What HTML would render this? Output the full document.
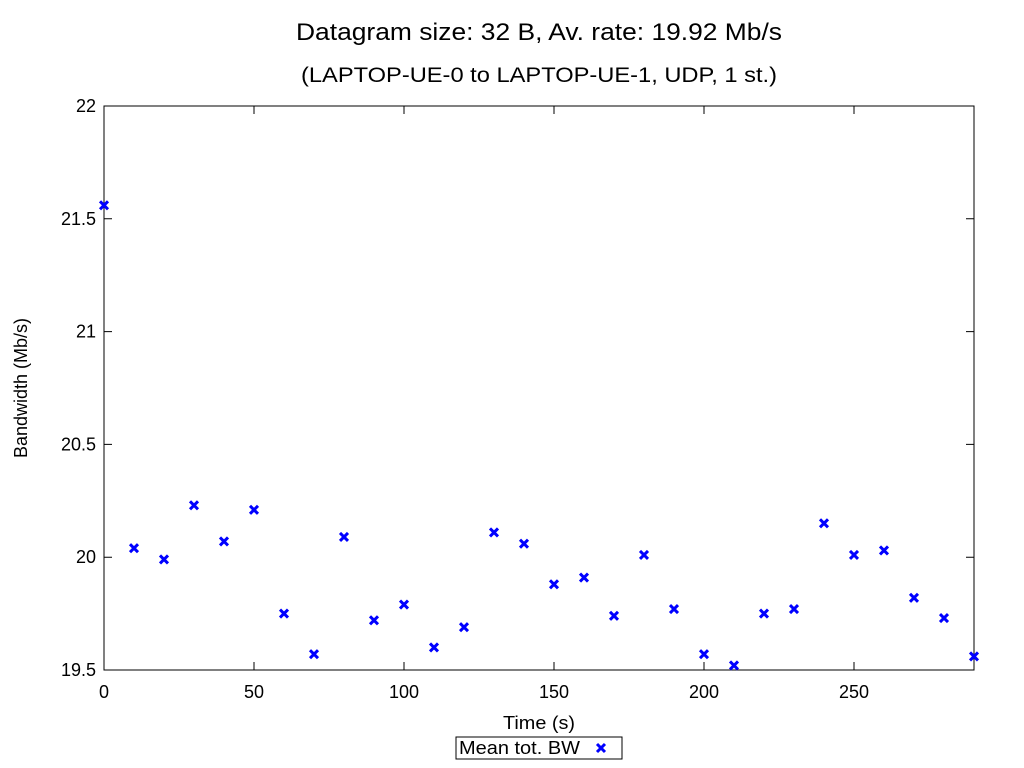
<!DOCTYPE html>
<html><head><meta charset="utf-8"><style>
body{margin:0;background:#fff}
svg{display:block;font-family:"Liberation Sans",sans-serif}
</style></head><body>
<svg id="c" width="1024" height="768">
<text x="296" y="40" font-size="24" textLength="486" lengthAdjust="spacingAndGlyphs">Datagram size: 32 B, Av. rate: 19.92 Mb/s</text>
<text x="301" y="82" font-size="21" textLength="476" lengthAdjust="spacingAndGlyphs">(LAPTOP-UE-0 to LAPTOP-UE-1, UDP, 1 st.)</text>
<rect x="104" y="106" width="870" height="564" fill="none" stroke="#000" stroke-width="1"/>
<g id="ticks"></g>
<g id="marks"></g>
<text x="503" y="729" font-size="18" textLength="72" lengthAdjust="spacingAndGlyphs">Time (s)</text>
<text transform="translate(27,388) rotate(-90)" font-size="18" text-anchor="middle">Bandwidth (Mb/s)</text>
<g>
<rect x="456" y="737" width="166" height="22" fill="none" stroke="#000"/>
<text x="459" y="754" font-size="18" textLength="121" lengthAdjust="spacingAndGlyphs">Mean tot. BW</text>
<path d="M597 744l8 8M605 744l-8 8" stroke="#0000ff" stroke-width="3"/>
</g>
</svg>
<script>
const times=[0,10,20,30,40,50,60,70,80,90,100,110,120,130,140,150,160,170,180,190,200,210,220,230,240,250,260,270,280,290];
const bandwidth=[21.56,20.04,19.99,20.23,20.07,20.21,19.75,19.57,20.09,19.72,19.79,19.60,19.69,20.11,20.06,19.88,19.91,19.74,20.01,19.77,19.57,19.52,19.75,19.77,20.15,20.01,20.03,19.82,19.73,19.56];
const xTicks=[0,50,100,150,200,250];
const yTicks=[19.5,20,20.5,21,21.5,22];
const yLabels=["19.5","20","20.5","21","21.5","22"];
const X=v=>104+(v-0)/290*870, Y=v=>670-(v-19.5)/2.5*564;
const NS="http://www.w3.org/2000/svg";
const tg=document.getElementById('ticks'), mg=document.getElementById('marks');
function mk(tag,attrs,parent){const e=document.createElementNS(NS,tag);for(const k in attrs)e.setAttribute(k,attrs[k]);parent.appendChild(e);return e;}
xTicks.forEach(t=>{const x=X(t);
 const l=mk('path',{d:`M${x} 670v-8M${x} 106v8`,stroke:'#000'},tg);
 
 
 const s=mk('text',{x:x,y:698,'font-size':18,'text-anchor':'middle'},tg);s.textContent=t;
 
 
});
yTicks.forEach((t,i)=>{const y=Y(t);
 const l=mk('path',{d:`M104 ${y}h8M974 ${y}h-8`,stroke:'#000'},tg);
 
 
 const s=mk('text',{x:96,y:y+6,'font-size':18,'text-anchor':'end'},tg);s.textContent=yLabels[i];
 
 
});
times.forEach((t,i)=>{const x=X(t),y=Y(bandwidth[i]);
 const p=mk('path',{d:`M${x-4} ${y-4}l8 8M${x+4} ${y-4}l-8 8`,stroke:'#0000ff','stroke-width':3},mg);
 
 
});
</script>
</body></html>
